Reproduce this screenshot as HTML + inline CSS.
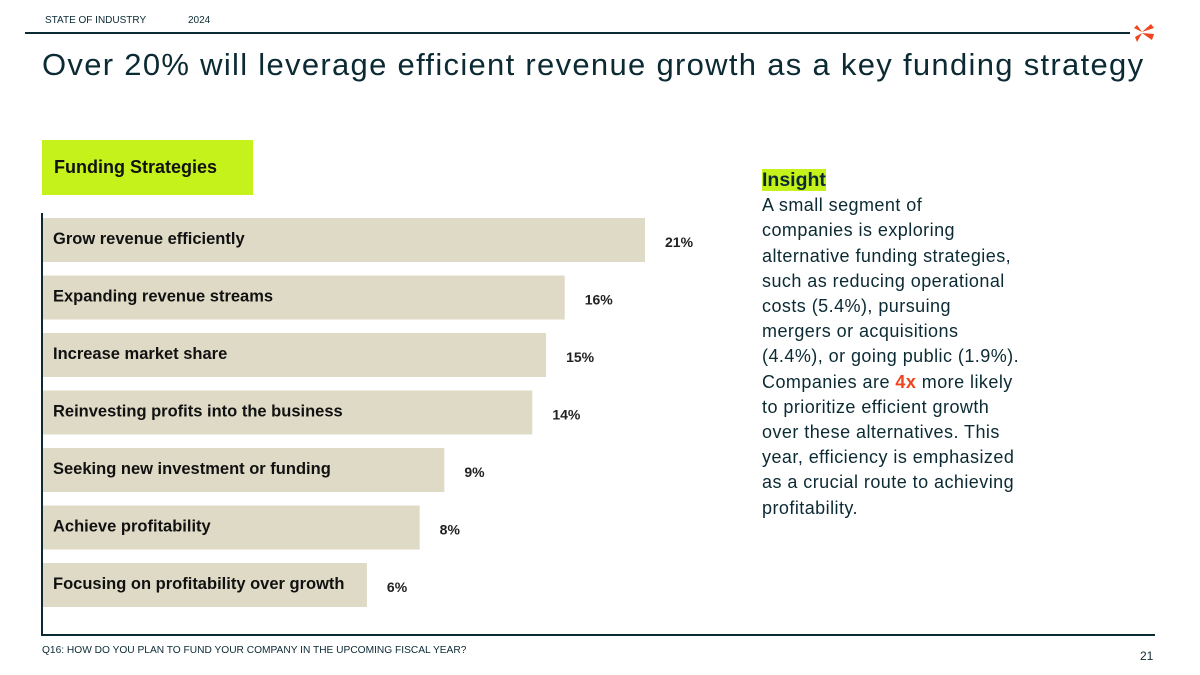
<!DOCTYPE html>
<html><head><meta charset="utf-8">
<style>
body{margin:0;width:1200px;height:675px;background:#fff;position:relative;overflow:hidden;font-family:"Liberation Sans",sans-serif;color:#0b2a33}
.abs{position:absolute}
</style></head>
<body>
<div class="abs" style="left:45px;top:15px;font-size:10px;color:#0b2a33">STATE OF INDUSTRY</div>
<div class="abs" style="left:188px;top:15px;font-size:10px">2024</div>
<div class="abs" style="left:25px;top:32px;width:1105px;height:2px;background:#0b2a33"></div>
<svg class="abs" style="left:1133px;top:22px" width="22" height="22" viewBox="0 0 22 22">
<g fill="#f0441e"><path d="M9 10 L18 2 L21 6 Z"/><path d="M9 11 L21 12 L19 18 Z"/><path d="M9 11 L4 20 L2 15 Z"/><path d="M9 10 L1 6 L4 3 Z"/></g></svg>
<div class="abs" style="left:42px;top:47px;font-size:31px;letter-spacing:1.3px;color:#0b2a33;white-space:nowrap">Over 20% will leverage efficient revenue growth as a key funding strategy</div>
<div class="abs" style="left:42px;top:140px;width:211px;height:55px;background:#c6f21c;font-weight:bold;font-size:18px;line-height:55px;padding-left:12px;box-sizing:border-box;color:#111">Funding Strategies</div>
<svg class="abs" id="chart" style="left:0;top:0" width="1200" height="675"></svg>
<div class="abs" style="left:762px;top:168px;width:300px;font-size:18px;letter-spacing:0.45px;line-height:25.2px;color:#0b2a33;white-space:nowrap">
<span style="background:#c6f21c;font-weight:bold;font-size:19.5px;letter-spacing:0">Insight</span><br>
A small segment of<br>companies is exploring<br>alternative funding strategies,<br>such as reducing operational<br>costs (5.4%), pursuing<br>mergers or acquisitions<br>(4.4%), or going public (1.9%).<br>Companies are <b style="color:#f0441e">4x</b> more likely<br>to prioritize efficient growth<br>over these alternatives. This<br>year, efficiency is emphasized<br>as a crucial route to achieving<br>profitability.</div>
<div class="abs" style="left:42px;top:645px;font-size:10.2px">Q16: HOW DO YOU PLAN TO FUND YOUR COMPANY IN THE UPCOMING FISCAL YEAR?</div>
<div class="abs" style="left:1140px;top:649px;font-size:12px">21</div>
<script>
const categories=["Grow revenue efficiently","Expanding revenue streams","Increase market share","Reinvesting profits into the business","Seeking new investment or funding","Achieve profitability","Focusing on profitability over growth"];
const values=[21,18.2,17.55,17.07,14.0,13.14,11.3];
const valueLabels=["21%","16%","15%","14%","9%","8%","6%"];
const svg=document.getElementById('chart');
const NS='http://www.w3.org/2000/svg';
const x0=43,pxPer=602/21,yTop=218,step=57.5,bh=44;
const xs=v=>x0+v*pxPer, ys=i=>yTop+i*step;
function mk(t,a){const e=document.createElementNS(NS,t);for(const k in a)e.setAttribute(k,a[k]);svg.appendChild(e);return e;}
categories.forEach((c,i)=>{
 const r=mk('rect',{x:x0,y:ys(i),width:xs(values[i])-x0,height:bh,fill:'#dfdac6'});
 
 
 const t=mk('text',{x:53,y:ys(i)+26,'font-size':16.5,'font-weight':'bold',fill:'#111','font-family':'Liberation Sans, sans-serif'});
 t.textContent=c;
 
 
 const v=mk('text',{x:xs(values[i])+20,y:ys(i)+29,'font-size':14,'font-weight':'bold',fill:'#222','font-family':'Liberation Sans, sans-serif'});
 v.textContent=valueLabels[i];
 
 
});
const ax=mk('line',{x1:42,y1:213,x2:42,y2:636,stroke:'#0b2a33','stroke-width':2});


const bx=mk('line',{x1:41,y1:635,x2:1155,y2:635,stroke:'#0b2a33','stroke-width':2});


</script>
</body></html>
